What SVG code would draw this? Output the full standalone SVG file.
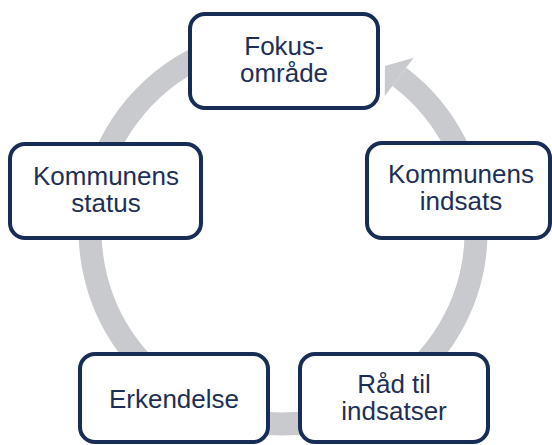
<svg xmlns="http://www.w3.org/2000/svg" width="552" height="445" viewBox="0 0 552 445">
<style>
.box{fill:#ffffff;stroke:#182D56;stroke-width:4}
.lbl{font-family:"Liberation Sans",Arial,sans-serif;font-size:26px;fill:#1E2F57;text-anchor:middle}
.ring{fill:none;stroke:#C9CACD;stroke-width:23}
.head{fill:#C9CACD}
</style>
<rect width="552" height="445" fill="#ffffff"/>
<g id="connectors">
<path class="ring" d="M399.3,76.9 A193,193 0 1 1 300,38.75"/>
<polygon class="head" points="413.7,57.8 384.9,66.1 384.8,96.1"/>
</g>
<g id="node-fokus">
<rect class="box" x="190" y="14" width="188" height="94" rx="15"/>
<text class="lbl" x="284" y="55">Fokus-</text>
<text class="lbl" x="284" y="82">område</text>
</g>
<g id="node-indsats">
<rect class="box" x="367" y="143" width="183" height="95" rx="15"/>
<text class="lbl" x="461" y="183">Kommunens</text>
<text class="lbl" x="461" y="210">indsats</text>
</g>
<g id="node-raad">
<rect class="box" x="300" y="354" width="188" height="88" rx="15"/>
<text class="lbl" x="394" y="393">Råd til</text>
<text class="lbl" x="394" y="420">indsatser</text>
</g>
<g id="node-erkendelse">
<rect class="box" x="80" y="354" width="188" height="88" rx="15"/>
<text class="lbl" x="174" y="408">Erkendelse</text>
</g>
<g id="node-status">
<rect class="box" x="10" y="144" width="191" height="94" rx="15"/>
<text class="lbl" x="106" y="185">Kommunens</text>
<text class="lbl" x="106" y="212">status</text>
</g>
</svg>
